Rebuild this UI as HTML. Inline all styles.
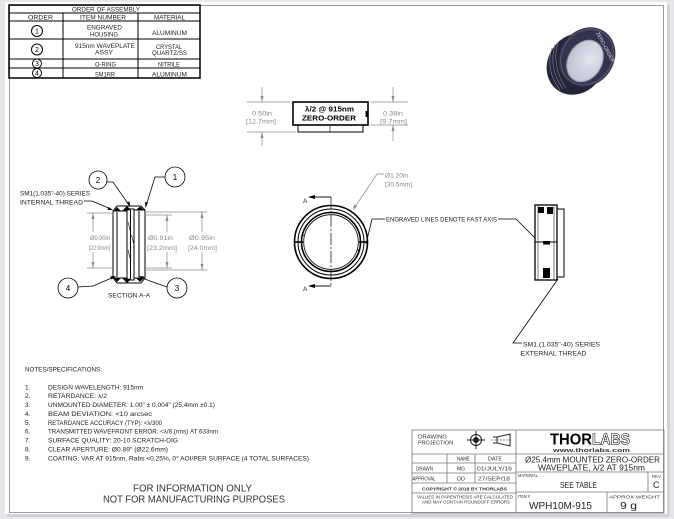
<!DOCTYPE html>
<html><head><meta charset="utf-8"><style>
html,body{margin:0;padding:0;background:#e7e7eb;}
svg{display:block;}
text{font-family:"Liberation Sans",sans-serif;}
</style></head><body>
<svg width="674" height="519" viewBox="0 0 674 519" xmlns="http://www.w3.org/2000/svg">
<defs>
<radialGradient id="lens" cx="0.6" cy="0.4" r="0.7">
<stop offset="0" stop-color="#e4e6ef"/>
<stop offset="1" stop-color="#b9bccd"/>
</radialGradient>
</defs>
<rect x="0" y="0" width="674" height="519" fill="#e7e7eb"/>
<rect x="667" y="5" width="3" height="512" fill="#d2d2d7"/>
<rect x="7" y="514" width="663" height="3" fill="#d2d2d7"/>
<rect x="5" y="2" width="662" height="512" fill="#fff"/>
<rect x="9.5" y="5.5" width="654" height="507" fill="none" stroke="#9c9c9c" stroke-width="1"/>

<!-- ORDER OF ASSEMBLY TABLE -->
<g stroke="#000" fill="none">
<rect x="9" y="5" width="191" height="73" stroke-width="1.5"/>
<line x1="9" y1="13" x2="200" y2="13"/>
<line x1="9" y1="21" x2="200" y2="21"/>
<line x1="9" y1="39" x2="200" y2="39"/>
<line x1="9" y1="59" x2="200" y2="59"/>
<line x1="9" y1="68" x2="200" y2="68"/>
<line x1="63" y1="13" x2="63" y2="78"/>
<line x1="138" y1="13" x2="138" y2="78"/>
<circle cx="37" cy="31" r="5.5"/>
<circle cx="37" cy="49.5" r="5.5"/>
<circle cx="37" cy="63.5" r="4.5"/>
<circle cx="37" cy="73" r="4.5"/>
</g>
<g fill="#222" font-size="6.3">
<text x="72" y="11.5" textLength="68" lengthAdjust="spacingAndGlyphs">ORDER OF ASSEMBLY</text>
<text x="28" y="19.3" textLength="25" lengthAdjust="spacingAndGlyphs">ORDER</text>
<text x="80" y="19.3" textLength="46" lengthAdjust="spacingAndGlyphs">ITEM NUMBER</text>
<text x="154" y="19.3" textLength="31" lengthAdjust="spacingAndGlyphs">MATERIAL</text>
<text x="87" y="29.3" textLength="35" lengthAdjust="spacingAndGlyphs">ENGRAVED</text>
<text x="90" y="36.3" textLength="28" lengthAdjust="spacingAndGlyphs">HOUSING</text>
<text x="152" y="34.8" textLength="35" lengthAdjust="spacingAndGlyphs">ALUMINUM</text>
<text x="75" y="47.8" textLength="60" lengthAdjust="spacingAndGlyphs">915nm WAVEPLATE</text>
<text x="95" y="54.3" textLength="18" lengthAdjust="spacingAndGlyphs">ASSY</text>
<text x="156" y="48.8" textLength="26" lengthAdjust="spacingAndGlyphs">CRYSTAL</text>
<text x="152" y="54.8" textLength="35" lengthAdjust="spacingAndGlyphs">QUARTZ/SS</text>
<text x="95" y="66.3" textLength="21" lengthAdjust="spacingAndGlyphs">O-RING</text>
<text x="158" y="66.3" textLength="22" lengthAdjust="spacingAndGlyphs">NITRILE</text>
<text x="95" y="76.3" textLength="20" lengthAdjust="spacingAndGlyphs">SM1RR</text>
<text x="152" y="76.3" textLength="35" lengthAdjust="spacingAndGlyphs">ALUMINUM</text>
</g>
<g fill="#000" font-size="7" text-anchor="middle">
<text x="37" y="33.5">1</text>
<text x="37" y="52">2</text>
<text x="37" y="66">3</text>
<text x="37" y="75.5">4</text>
</g>

<!-- PHOTO -->
<g>
<ellipse cx="576" cy="64" rx="28" ry="32" transform="rotate(35 576 64)" fill="#25253a"/>
<ellipse cx="587" cy="57" rx="27" ry="31" transform="rotate(35 587 57)" fill="#34344d"/>
<ellipse cx="587" cy="57" rx="25" ry="29" transform="rotate(35 587 57)" fill="none" stroke="#5a5a74" stroke-width="1"/>
<ellipse cx="585" cy="61" rx="17" ry="22" transform="rotate(30 585 61)" fill="url(#lens)" stroke="#8d90a6" stroke-width="1"/>
<path d="M552,48 Q545,70 560,90" stroke="#8a8aa0" stroke-width="0.6" fill="none"/>
<path d="M555,45 Q548,68 563,89" stroke="#8a8aa0" stroke-width="0.6" fill="none"/>
<path d="M558,42 Q551,66 566,88" stroke="#8a8aa0" stroke-width="0.6" fill="none"/>
<text x="596" y="33" font-size="5" fill="#dcdcec" transform="rotate(62 596 33)">ZERO-ORDER</text>
<text x="592" y="44" font-size="5" fill="#dcdcec" transform="rotate(62 592 44)">λ/2</text>
</g>

<!-- TOP VIEW -->
<g stroke="#000" fill="none">
<rect x="293" y="102" width="75" height="23" stroke-width="1.6"/>
<rect x="298" y="125" width="65" height="7" stroke-width="1"/>
<line x1="330" y1="125" x2="330" y2="132" stroke-width="0.6"/>
</g>
<rect x="365.5" y="111" width="2.5" height="6" fill="#000"/>
<text x="305" y="111.5" font-size="7.5" font-weight="bold" textLength="49" lengthAdjust="spacingAndGlyphs">λ/2 @ 915nm</text>
<text x="302" y="120.5" font-size="7.5" font-weight="bold" textLength="54" lengthAdjust="spacingAndGlyphs">ZERO-ORDER</text>
<g stroke="#8a8a8a" stroke-width="0.7" fill="none">
<line x1="247" y1="102" x2="290" y2="102"/>
<line x1="247" y1="132" x2="296" y2="132"/>
<line x1="262" y1="87" x2="262" y2="102"/>
<line x1="262" y1="132" x2="262" y2="146"/>
<line x1="371" y1="102" x2="408" y2="102"/>
<line x1="371" y1="125" x2="408" y2="125"/>
<line x1="393" y1="87" x2="393" y2="102"/>
<line x1="393" y1="125" x2="393" y2="141"/>
</g>
<g fill="#8a8a8a">
<polygon points="262,102 260.5,96 263.5,96"/>
<polygon points="262,132 260.5,138 263.5,138"/>
<polygon points="393,102 391.5,96 394.5,96"/>
<polygon points="393,125 391.5,131 394.5,131"/>
</g>
<g fill="#8a8a8a" font-size="6.3">
<text x="252" y="115.3" textLength="20" lengthAdjust="spacingAndGlyphs">0.50in</text>
<text x="246" y="123.3" textLength="30" lengthAdjust="spacingAndGlyphs">[12.7mm]</text>
<text x="383" y="115.3" textLength="20" lengthAdjust="spacingAndGlyphs">0.38in</text>
<text x="380" y="123.3" textLength="27" lengthAdjust="spacingAndGlyphs">[9.7mm]</text>
</g>

<!-- SECTION A-A -->
<g stroke="#000" stroke-width="1" fill="none">
<rect x="113" y="211" width="14" height="67"/>
<line x1="117" y1="212" x2="117" y2="277"/>
<rect x="127" y="209" width="7" height="71"/>
<line x1="130.5" y1="210" x2="130.5" y2="279"/>
<rect x="134" y="210" width="11" height="68"/>
<line x1="139" y1="211" x2="139" y2="277"/>
<polyline points="113,211 117,206 141,206 145,210"/>
<polyline points="113,278 117,283 141,283 145,278"/>
<line x1="128" y1="222" x2="130" y2="230" stroke-width="0.6"/>
<line x1="128" y1="250" x2="130" y2="258" stroke-width="0.6"/>
<line x1="131.5" y1="235" x2="133.5" y2="243" stroke-width="0.6"/>
</g>
<g fill="#000">
<polygon points="114,211 117,207 121,211"/>
<polygon points="122,211 127,206 131,210"/>
<polygon points="136,210 140,206.5 144,210"/>
<polygon points="114,278 117,282 121,278"/>
<polygon points="122,278 127,283 131,279"/>
<polygon points="136,278 140,282 144,278"/>
</g>
<g stroke="#8a8a8a" stroke-width="0.7" fill="none">
<line x1="87" y1="213" x2="112" y2="213"/>
<line x1="87" y1="268" x2="112" y2="268"/>
<line x1="93" y1="213" x2="93" y2="232"/>
<line x1="93" y1="252" x2="93" y2="268"/>
<line x1="146" y1="215" x2="172" y2="215"/>
<line x1="146" y1="268" x2="172" y2="268"/>
<line x1="167" y1="215" x2="167" y2="232"/>
<line x1="167" y1="252" x2="167" y2="268"/>
<line x1="146" y1="212" x2="207" y2="212"/>
<line x1="146" y1="270" x2="207" y2="270"/>
<line x1="202" y1="212" x2="202" y2="232"/>
<line x1="202" y1="252" x2="202" y2="270"/>
</g>
<g fill="#8a8a8a">
<polygon points="93,213 91.5,219 94.5,219"/>
<polygon points="93,268 91.5,262 94.5,262"/>
<polygon points="167,215 165.5,221 168.5,221"/>
<polygon points="167,268 165.5,262 168.5,262"/>
<polygon points="202,212 200.5,218 203.5,218"/>
<polygon points="202,270 200.5,264 203.5,264"/>
</g>
<g fill="#8a8a8a" font-size="6.3">
<text x="90" y="239.8" textLength="20" lengthAdjust="spacingAndGlyphs">Ø0.90in</text>
<text x="89" y="249.8" textLength="21" lengthAdjust="spacingAndGlyphs">[22.9mm]</text>
<text x="148" y="239.8" textLength="25" lengthAdjust="spacingAndGlyphs">Ø0.91in</text>
<text x="147" y="249.8" textLength="30" lengthAdjust="spacingAndGlyphs">[23.2mm]</text>
<text x="189" y="239.8" textLength="26" lengthAdjust="spacingAndGlyphs">Ø0.95in</text>
<text x="188" y="249.8" textLength="29" lengthAdjust="spacingAndGlyphs">[24.0mm]</text>
</g>
<g stroke="#000" stroke-width="0.8" fill="none">
<circle cx="98" cy="180" r="9"/>
<circle cx="175" cy="177" r="10"/>
<circle cx="68" cy="288" r="10"/>
<circle cx="177" cy="288" r="10"/>
<polyline points="107,182 113,182 129,205"/>
<polyline points="165,177 155,177 146,206"/>
<polyline points="78,287 93,286 114,277"/>
<polyline points="167,287 150,281 140,277"/>
<polyline points="84,201 92,201 111,209"/>
</g>
<g fill="#000">
<polygon points="130,207 126.5,202.5 129.5,201.5"/>
<polygon points="145.5,208 145,202 148,202.5"/>
<polygon points="116,276 110,276.5 111.5,279.5"/>
<polygon points="139,276 144,276.5 142.5,279.5"/>
<polygon points="113,210 107.5,210 108.5,207"/>
</g>
<g fill="#000" font-size="8" text-anchor="middle">
<text x="98" y="183">2</text>
<text x="175" y="180">1</text>
<text x="68" y="291">4</text>
<text x="177" y="291">3</text>
</g>
<g fill="#222" font-size="6.3">
<text x="20" y="195.5" textLength="70" lengthAdjust="spacingAndGlyphs">SM1(1.035"-40) SERIES</text>
<text x="20" y="204.3" textLength="63" lengthAdjust="spacingAndGlyphs">INTERNAL THREAD</text>
<text x="108" y="297.3" textLength="42" lengthAdjust="spacingAndGlyphs">SECTION A-A</text>
</g>

<!-- FRONT VIEW -->
<g stroke="#000" fill="none">
<circle cx="331" cy="242" r="36.5" stroke-width="1.6"/>
<circle cx="331" cy="242" r="33" stroke-width="1"/>
<circle cx="331" cy="242" r="29.5" stroke-width="1.6"/>
<circle cx="331" cy="242" r="27.3" stroke-width="0.8"/>
<line x1="294.5" y1="242" x2="303" y2="242" stroke-width="1.6"/>
<line x1="359" y1="242" x2="367.5" y2="242" stroke-width="1.6"/>
<line x1="302" y1="234" x2="304" y2="236" stroke-width="0.8"/>
<line x1="357" y1="249" x2="359" y2="251" stroke-width="0.8"/>
<line x1="331" y1="197" x2="331" y2="286" stroke-width="0.7" stroke-dasharray="12,2,2,2"/>
<polyline points="331,197 315,197" stroke-width="0.9"/>
<polyline points="331,286 315,286" stroke-width="0.9"/>
</g>
<g fill="#000">
<polygon points="308,197 315,195 315,199"/>
<polygon points="308,286 315,284 315,288"/>
</g>
<g fill="#222" font-size="6.5">
<text x="303" y="203">A</text>
<text x="303" y="291">A</text>
</g>
<g stroke="#8a8a8a" stroke-width="0.7" fill="none">
<polyline points="384,174 377,174 355,207"/>
</g>
<polygon points="353,210 354.2,204.4 357,206.3" fill="#8a8a8a"/>
<g fill="#8a8a8a" font-size="6.3">
<text x="385" y="177.3" textLength="23" lengthAdjust="spacingAndGlyphs">Ø1.20in</text>
<text x="385" y="186.3" textLength="27" lengthAdjust="spacingAndGlyphs">[30.5mm]</text>
</g>
<g stroke="#000" stroke-width="0.8" fill="none">
<polyline points="385,219 372,219 366,244"/>
<polyline points="498,219 516,219 535,238"/>
<polyline points="558,279 513,343 522,343"/>
</g>
<text x="386" y="221.3" font-size="6.3" fill="#222" textLength="111" lengthAdjust="spacingAndGlyphs">ENGRAVED LINES DENOTE FAST AXIS</text>

<!-- SIDE VIEW -->
<g stroke="#000" fill="none">
<rect x="535" y="205" width="22" height="75" stroke-width="1.3"/>
<rect x="557" y="209" width="7" height="68" stroke-width="1"/>
<line x1="535" y1="242" x2="557" y2="242" stroke-width="1"/>
<line x1="538" y1="205" x2="538" y2="280" stroke-width="0.5"/>
<line x1="554" y1="205" x2="554" y2="280" stroke-width="0.5"/>
</g>
<g fill="#000">
<rect x="538" y="207" width="6" height="6"/>
<rect x="547" y="207" width="6" height="7"/>
<rect x="543" y="241" width="7" height="3.5"/>
<rect x="543" y="268" width="7" height="10"/>
</g>
<g fill="#222" font-size="6.3">
<text x="523" y="346.3" textLength="77" lengthAdjust="spacingAndGlyphs">SM1 (1.035"-40) SERIES</text>
<text x="520.5" y="355.3" textLength="66" lengthAdjust="spacingAndGlyphs">EXTERNAL THREAD</text>
</g>

<!-- NOTES -->
<g fill="#222" font-size="6.5">
<text x="25" y="371.3" textLength="77" lengthAdjust="spacingAndGlyphs">NOTES/SPECIFICATIONS:</text>
<text x="25" y="389.3">1.</text><text x="48" y="389.3" textLength="95" lengthAdjust="spacingAndGlyphs">DESIGN WAVELENGTH: 915nm</text>
<text x="25" y="398.2">2.</text><text x="48" y="398.2" textLength="59" lengthAdjust="spacingAndGlyphs">RETARDANCE: λ/2</text>
<text x="25" y="407">3.</text><text x="48" y="407" textLength="167" lengthAdjust="spacingAndGlyphs">UNMOUNTED DIAMETER: 1.00" ± 0.004" (25.4mm ±0.1)</text>
<text x="25" y="415.9">4.</text><text x="48" y="415.9" textLength="104" lengthAdjust="spacingAndGlyphs">BEAM DEVIATION: &lt;10 arcsec</text>
<text x="25" y="424.8">5.</text><text x="48" y="424.8" textLength="114" lengthAdjust="spacingAndGlyphs">RETARDANCE ACCURACY (TYP): &lt;λ/300</text>
<text x="25" y="433.7">6.</text><text x="48" y="433.7" textLength="170" lengthAdjust="spacingAndGlyphs">TRANSMITTED WAVEFRONT ERROR: &lt;λ/8 (rms) AT 633nm</text>
<text x="25" y="442.5">7.</text><text x="48" y="442.5" textLength="130" lengthAdjust="spacingAndGlyphs">SURFACE QUALITY: 20-10 SCRATCH-DIG</text>
<text x="25" y="451.4">8.</text><text x="48" y="451.4" textLength="120" lengthAdjust="spacingAndGlyphs">CLEAR APERTURE: Ø0.89" (Ø22.6mm)</text>
<text x="25" y="460.3">9.</text><text x="48" y="460.3" textLength="261" lengthAdjust="spacingAndGlyphs">COATING: VAR AT 915nm, Rabs &lt;0.25%, 0° AOI/PER SURFACE (4 TOTAL SURFACES)</text>
</g>
<g fill="#333" font-size="10">
<text x="133" y="491.6" textLength="119" lengthAdjust="spacingAndGlyphs">FOR INFORMATION ONLY</text>
<text x="103" y="502.6" textLength="182" lengthAdjust="spacingAndGlyphs">NOT FOR MANUFACTURING PURPOSES</text>
</g>

<!-- TITLE BLOCK -->
<g stroke="#777" stroke-width="0.8" fill="none">
<rect x="412" y="430" width="252" height="83"/>
<line x1="516" y1="430" x2="516" y2="513"/>
<line x1="412" y1="454" x2="664" y2="454"/>
<line x1="412" y1="463" x2="516" y2="463"/>
<line x1="412" y1="473" x2="516" y2="473"/>
<line x1="412" y1="483" x2="516" y2="483"/>
<line x1="412" y1="493" x2="516" y2="493"/>
<line x1="447" y1="454" x2="447" y2="483"/>
<line x1="475" y1="454" x2="475" y2="483"/>
<line x1="516" y1="472" x2="664" y2="472"/>
<line x1="516" y1="492" x2="664" y2="492"/>
<line x1="648" y1="472" x2="648" y2="492"/>
<line x1="607" y1="492" x2="607" y2="513"/>
</g>
<g stroke="#222" fill="none" stroke-width="1">
<circle cx="476" cy="440" r="5.5"/>
<circle cx="476" cy="440" r="2.5" fill="#222"/>
<line x1="467" y1="440" x2="485" y2="440"/>
<line x1="476" y1="431" x2="476" y2="449"/>
<polygon points="497,437 510,434 510,446 497,443"/>
<line x1="493" y1="437" x2="497" y2="437"/>
<line x1="493" y1="443" x2="497" y2="443"/>
<line x1="491" y1="440" x2="512" y2="440" stroke-width="0.5" stroke-dasharray="2,1"/>
</g>
<g fill="#333" font-size="5.5">
<text x="418" y="438.5" textLength="29" lengthAdjust="spacingAndGlyphs">DRAWING</text>
<text x="418" y="444.5" textLength="35" lengthAdjust="spacingAndGlyphs">PROJECTION</text>
<text x="457" y="460.5" textLength="13" lengthAdjust="spacingAndGlyphs">NAME</text>
<text x="488" y="460.5" textLength="14" lengthAdjust="spacingAndGlyphs">DATE</text>
<text x="416" y="470.5" textLength="17" lengthAdjust="spacingAndGlyphs">DRAWN</text>
<text x="457" y="470.5" textLength="8" lengthAdjust="spacingAndGlyphs">MG</text>
<text x="477" y="470.5" textLength="35" lengthAdjust="spacingAndGlyphs">01/JULY/16</text>
<text x="412.5" y="480.5" textLength="23" lengthAdjust="spacingAndGlyphs">APPROVAL</text>
<text x="457" y="480.5" textLength="8" lengthAdjust="spacingAndGlyphs">DD</text>
<text x="478" y="480.5" textLength="32" lengthAdjust="spacingAndGlyphs">27/SEP/18</text>
<text x="422" y="490.5" font-size="4.5" font-weight="bold" textLength="85" lengthAdjust="spacingAndGlyphs">COPYRIGHT © 2018 BY THORLABS</text>
<text x="417" y="498.5" font-size="4.5" textLength="96" lengthAdjust="spacingAndGlyphs">VALUES IN PARENTHESIS ARE CALCULATED</text>
<text x="422" y="503.5" font-size="4.5" textLength="88" lengthAdjust="spacingAndGlyphs">AND MAY CONTAIN ROUNDOFF ERRORS</text>
<text x="518" y="476.8" font-size="4.8" textLength="20" lengthAdjust="spacingAndGlyphs">MATERIAL</text>
<text x="652" y="478" font-size="4.8" textLength="9" lengthAdjust="spacingAndGlyphs">REV</text>
<text x="518" y="498" font-size="4.8" textLength="12" lengthAdjust="spacingAndGlyphs">ITEM #</text>
<text x="609" y="498.5" font-size="4.8" textLength="51" lengthAdjust="spacingAndGlyphs">APPROX WEIGHT</text>
</g>
<text x="550" y="444.5" font-size="16" font-weight="bold" fill="#000" textLength="42" lengthAdjust="spacingAndGlyphs">THOR</text>
<text x="592" y="444.5" font-size="16" font-weight="bold" fill="#fff" stroke="#000" stroke-width="0.6" textLength="38" lengthAdjust="spacingAndGlyphs">LABS</text>
<text x="553" y="452" font-size="5.5" font-weight="bold" fill="#333" textLength="77" lengthAdjust="spacingAndGlyphs">www.thorlabs.com</text>
<g fill="#222">
<text x="525" y="462.5" font-size="8.5" textLength="135" lengthAdjust="spacingAndGlyphs">Ø25.4mm MOUNTED ZERO-ORDER</text>
<text x="538" y="470.5" font-size="8.5" textLength="107" lengthAdjust="spacingAndGlyphs">WAVEPLATE, λ/2 AT 915nm</text>
<text x="560" y="488.2" font-size="8.5" textLength="37" lengthAdjust="spacingAndGlyphs">SEE TABLE</text>
<text x="653" y="488.2" font-size="9">C</text>
<text x="529" y="509" font-size="10.5" textLength="63" lengthAdjust="spacingAndGlyphs">WPH10M-915</text>
<text x="620" y="509" font-size="10.5" textLength="17" lengthAdjust="spacingAndGlyphs">9 g</text>
</g>
</svg>
</body></html>
